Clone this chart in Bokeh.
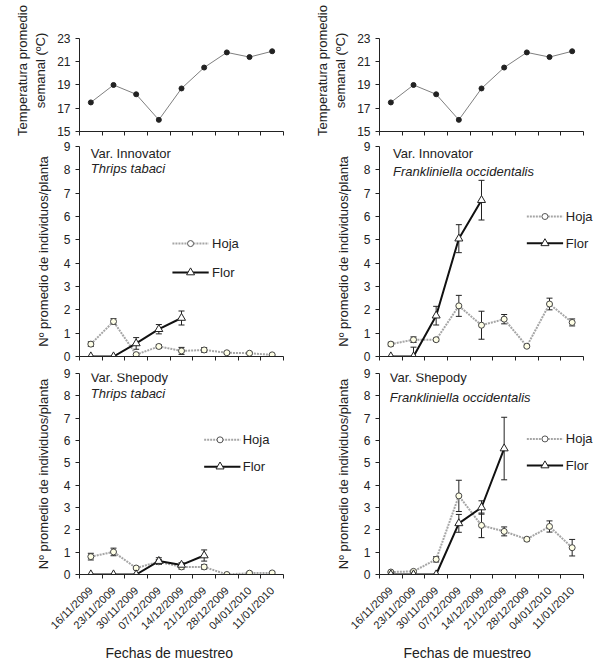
import numpy as np
from bokeh.plotting import figure
from bokeh.layouts import column, row
from bokeh.models import FixedTicker, Range1d, Label, Whisker, ColumnDataSource, TeeHead, Title
from bokeh.embed import file_html
from bokeh.resources import INLINE

nan = float("nan")

fechas = ["16/11/2009", "23/11/2009", "30/11/2009", "07/12/2009", "14/12/2009",
          "21/12/2009", "28/12/2009", "04/01/2010", "11/01/2010"]
temperatura = [17.5, 19.0, 18.2, 16.0, 18.7, 20.5, 21.8, 21.4, 21.9]

# Var. Innovator - Thrips tabaci
inn_tt_hoja = [0.53, 1.50, 0.08, 0.43, 0.24, 0.28, 0.16, 0.14, 0.07]
inn_tt_hoja_err = [0.10, 0.12, 0.04, 0.08, 0.15, 0.10, 0.04, 0.04, 0.02]
inn_tt_flor = [0.0, 0.0, 0.56, 1.17, 1.65, nan, nan, nan, nan]
inn_tt_flor_err = [0.0, 0.0, 0.25, 0.20, 0.30, nan, nan, nan, nan]

# Var. Innovator - Frankliniella occidentalis
inn_fo_hoja = [0.53, 0.72, 0.72, 2.17, 1.34, 1.60, 0.44, 2.25, 1.46]
inn_fo_hoja_err = [0.08, 0.12, 0.07, 0.45, 0.60, 0.20, 0.05, 0.25, 0.15]
inn_fo_flor = [0.0, 0.0, 1.75, 5.05, 6.70, nan, nan, nan, nan]
inn_fo_flor_err = [0.0, 0.40, 0.40, 0.60, 0.85, nan, nan, nan, nan]

# Var. Shepody - Thrips tabaci
she_tt_hoja = [0.80, 1.01, 0.29, 0.57, 0.34, 0.34, 0.0, 0.06, 0.07]
she_tt_hoja_err = [0.15, 0.17, 0.05, 0.10, 0.10, 0.10, 0.0, 0.05, 0.05]
she_tt_flor = [0.0, 0.0, 0.0, 0.60, 0.43, 0.85, nan, nan, nan]
she_tt_flor_err = [0.0, 0.0, 0.0, 0.15, 0.10, 0.25, nan, nan, nan]

# Var. Shepody - Frankliniella occidentalis
she_fo_hoja = [0.11, 0.14, 0.68, 3.52, 2.20, 1.93, 1.58, 2.15, 1.20]
she_fo_hoja_err = [0.03, 0.05, 0.12, 0.70, 0.55, 0.20, 0.08, 0.25, 0.37]
she_fo_flor = [0.0, 0.0, 0.0, 2.29, 3.00, 5.64, nan, nan, nan]
she_fo_flor_err = [0.0, 0.0, 0.0, 0.40, 0.30, 1.40, nan, nan, nan]

FONT = "Liberation Sans"
TXT = "#222222"
xpos = [i + 0.5 for i in range(len(fechas))]
NCAT = len(fechas)


def base_fig(w, h, bl, br, bt, bb, xmax, yr, ybounds, yticks, ylabel, bottom_labels, title_offset=0):
    p = figure(width=w, height=h, x_range=Range1d(0, xmax), y_range=Range1d(*yr),
               output_backend="svg", toolbar_location=None,
               min_border_left=bl, min_border_right=br, min_border_top=bt, min_border_bottom=bb)
    p.outline_line_color = None
    p.xgrid.visible = False
    p.ygrid.visible = False
    p.background_fill_color = "white"
    p.border_fill_color = "white"
    xa = p.xaxis[0]
    xa.bounds = (0, NCAT)
    if bottom_labels:
        xa.ticker = FixedTicker(ticks=xpos, minor_ticks=list(range(NCAT + 1)))
        xa.major_label_overrides = {x: f for x, f in zip(xpos, fechas)}
        xa.major_label_orientation = np.pi / 4
        xa.major_label_text_font_size = "11px"
        xa.major_label_standoff = 10
        p.add_layout(Title(text="Fechas de muestreo", align="left", offset=title_offset,
                           text_font=FONT, text_font_size="14px", text_font_style="normal",
                           text_color=TXT, standoff=8), "below")
    else:
        xa.ticker = FixedTicker(ticks=[], minor_ticks=list(range(NCAT + 1)))
        xa.major_label_text_font_size = "0px"
    xa.major_label_text_font = FONT
    xa.major_label_text_color = TXT
    xa.major_tick_out = 0
    xa.major_tick_in = 0
    xa.minor_tick_out = 4
    xa.minor_tick_in = 0
    xa.minor_tick_line_color = "#222222"
    xa.axis_line_color = "#222222"

    ya = p.yaxis[0]
    ya.bounds = ybounds
    ya.ticker = FixedTicker(ticks=yticks)
    ya.minor_tick_line_color = None
    ya.major_tick_out = 4
    ya.major_tick_in = 0
    ya.major_label_text_font = FONT
    ya.major_label_text_font_size = "12px"
    ya.major_label_text_color = TXT
    ya.major_label_standoff = 5
    ya.axis_line_color = "#222222"
    ya.major_tick_line_color = "#222222"
    ya.axis_label = ylabel
    ya.axis_label_text_font = FONT
    ya.axis_label_text_font_size = "13px"
    ya.axis_label_text_font_style = "normal"
    ya.axis_label_text_color = TXT
    ya.axis_label_standoff = 10
    return p


def temp_fig(bl, br, w):
    # frame extends above 23 so the two-line label sits higher, axis line bounded at 15..23
    p = base_fig(w, 139, bl, br, 9, 8, NCAT, (15, 25.49), (15, 23), [15, 17, 19, 21, 23],
                 "Temperatura promedio\nsemanal (ºC)", False)
    p.yaxis[0].axis_label_standoff = 6
    p.line(xpos, temperatura, line_color="#7f7f7f", line_width=1)
    p.scatter(xpos, temperatura, size=5, marker="circle", fill_color="#222222", line_color="#222222")
    return p


def add_series(p, vals, errs, kind):
    x = [xi for xi, v in zip(xpos, vals) if not np.isnan(v)]
    if kind == "hoja":
        p.line(xpos, vals, line_color="#a6a6a6", line_width=2, line_dash="2 1")
    else:
        p.line(xpos, vals, line_color="#111111", line_width=2)
    wx, up, lo = [], [], []
    for xi, v, e in zip(xpos, vals, errs):
        if not np.isnan(v) and not np.isnan(e) and e > 0:
            wx.append(xi)
            up.append(v + e)
            lo.append(max(v - e, 0.0))
    src = ColumnDataSource(dict(x=wx, upper=up, lower=lo))
    w = Whisker(source=src, base="x", upper="upper", lower="lower",
                line_color="#222222", line_width=1,
                upper_head=TeeHead(size=6, line_color="#222222", line_width=1),
                lower_head=TeeHead(size=6, line_color="#222222", line_width=1))
    p.add_layout(w)
    y = [v for v in vals if not np.isnan(v)]
    if kind == "hoja":
        p.scatter(x, y, marker="circle", size=6, fill_color="#ffffe6", line_color="#444444", line_width=1)
    else:
        p.scatter(x, y, marker="triangle", size=8, fill_color="white", line_color="#222222", line_width=1)


def legend(p, x0, x1, xm, xt, yh, yf):
    p.line([x0, x1], [yh, yh], line_color="#a6a6a6", line_width=2, line_dash="2 1")
    p.scatter([xm], [yh], marker="circle", size=6, fill_color="white", line_color="#555555")
    p.add_layout(Label(x=xt, y=yh, text="Hoja", text_font=FONT, text_font_size="13px",
                       text_baseline="middle", text_color=TXT))
    p.line([x0, x1], [yf, yf], line_color="#111111", line_width=2)
    p.scatter([xm], [yf], marker="triangle", size=8, fill_color="white", line_color="#222222")
    p.add_layout(Label(x=xt, y=yf, text="Flor", text_font=FONT, text_font_size="13px",
                       text_baseline="middle", text_color=TXT))


def titles(p, x, y1, y2, var, sp):
    p.add_layout(Label(x=x, y=y1, text=var, text_font=FONT, text_font_size="13px",
                       text_baseline="middle", text_color=TXT))
    p.add_layout(Label(x=x, y=y2, text=sp, text_font=FONT, text_font_size="13px",
                       text_font_style="italic", text_baseline="middle", text_color=TXT))


def count_fig(bl, br, bt, bb, h, w, xmax, bottom, toff=0):
    return base_fig(w, h, bl, br, bt, bb, xmax, (0, 9), (0, 9), list(range(10)),
                    "Nº promedio de individuos/planta", bottom, toff)


LW, RW = 298, 299
LB, RB = 79, 81
LR = 15
XR = NCAT * 218 / 204  # right panels: frame reaches the window edge so legend text is not clipped

t1 = temp_fig(LB, LR, LW)
t2 = temp_fig(RB, 14, RW)

m1 = count_fig(LB, LR, 7, 8, 225, LW, NCAT, False)
add_series(m1, inn_tt_hoja, inn_tt_hoja_err, "hoja")
add_series(m1, inn_tt_flor, inn_tt_flor_err, "flor")
legend(m1, 4.1, 5.7, 4.9, 5.85, 4.84, 3.6)
titles(m1, 0.5, 8.7, 8.05, "Var. Innovator", "Thrips tabaci")

m2 = count_fig(RB, 0, 7, 8, 225, RW, XR, False)
add_series(m2, inn_fo_hoja, inn_fo_hoja_err, "hoja")
add_series(m2, inn_fo_flor, inn_fo_flor_err, "flor")
legend(m2, 6.5, 8.1, 7.3, 8.22, 6.0, 4.85)
titles(m2, 0.6, 8.7, 7.95, "Var. Innovator", "Frankliniella occidentalis")

b1 = count_fig(LB, LR, 9, 81, 300, LW, NCAT, True, 26)
add_series(b1, she_tt_hoja, she_tt_hoja_err, "hoja")
add_series(b1, she_tt_flor, she_tt_flor_err, "flor")
legend(b1, 5.5, 7.1, 6.2, 7.2, 6.03, 4.83)
titles(b1, 0.5, 8.83, 8.1, "Var. Shepody", "Thrips tabaci")

b2 = count_fig(RB, 0, 9, 81, 300, RW, XR, True, 24)
add_series(b2, she_fo_hoja, she_fo_hoja_err, "hoja")
add_series(b2, she_fo_flor, she_fo_flor_err, "flor")
legend(b2, 6.5, 8.1, 7.3, 8.22, 6.07, 4.88)
titles(b2, 0.45, 8.83, 7.93, "Var. Shepody", "Frankliniella occidentalis")

layout = column(row(t1, t2), row(m1, m2), row(b1, b2))

with open("out.html", "w") as f:
    f.write(file_html(layout, INLINE))
